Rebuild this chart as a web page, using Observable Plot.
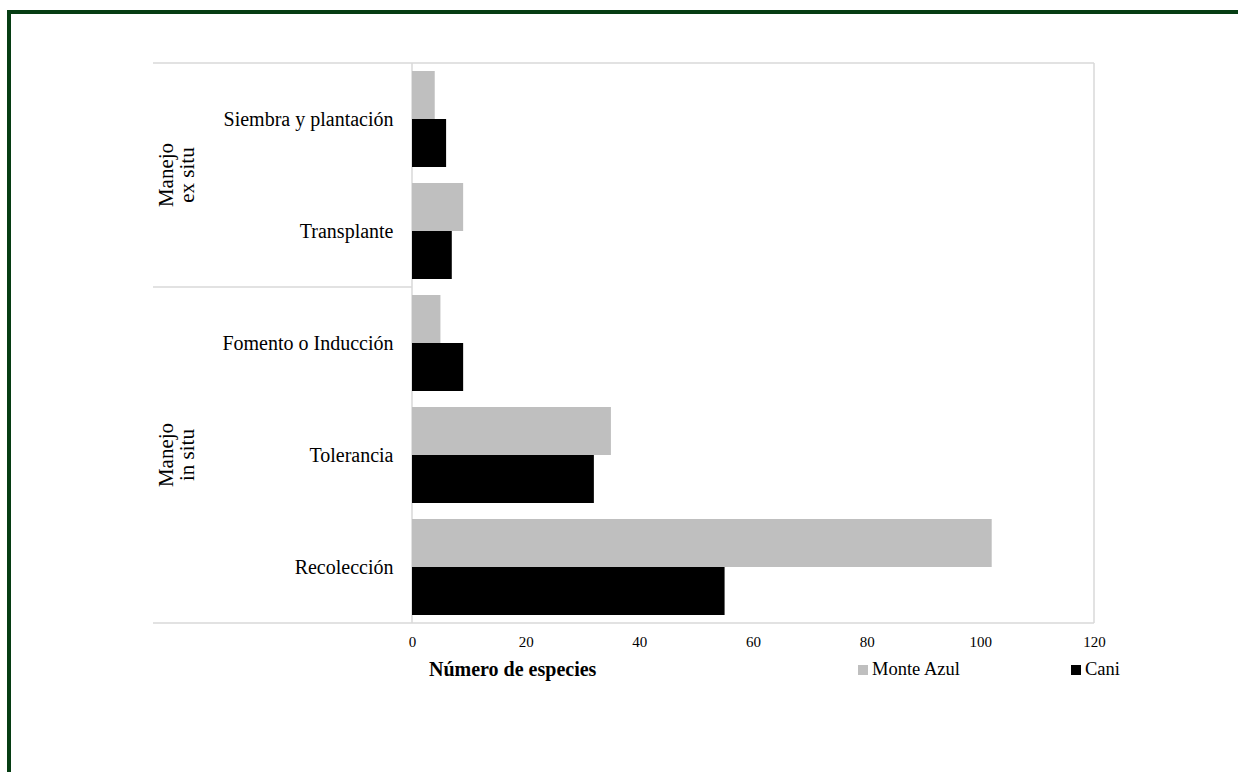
<!DOCTYPE html>
<html>
<head>
<meta charset="utf-8">
<script src="https://cdn.jsdelivr.net/npm/d3@7"></script>
<script src="https://cdn.jsdelivr.net/npm/@observablehq/plot@0.6"></script>
<style>
  html, body { margin: 0; padding: 0; background: #fff; }
  body { width: 1238px; height: 772px; position: relative; overflow: hidden;
         font-family: "Liberation Serif", "Times New Roman", serif; color: #000; }
  #border { position: absolute; left: 7px; top: 10px; width: 1400px; height: 900px;
            border-top: 4px solid #063d13; border-left: 4px solid #063d13; }
  #chart { position: absolute; left: 0; top: 0; }
  #xlabel { position: absolute; left: 429px; top: 658px; font-size: 20px; font-weight: bold; white-space: nowrap; }
  #legend { position: absolute; left: 858px; top: 659px; font-size: 18.5px; display: flex; align-items: center; white-space: nowrap; }
  .sw { display: inline-block; width: 10px; height: 10px; margin-right: 4px; }
  .item { display: flex; align-items: center; }
</style>
</head>
<body>
<div id="border"></div>
<div id="chart"></div>
<div id="xlabel"></div>
<div id="legend"></div>
<script>
// ---- data ----
const categories = ["Siembra y plantación", "Transplante", "Fomento o Inducción", "Tolerancia", "Recolección"];
const seriesNames = ["Monte Azul", "Cani"];
const monteAzul = [4, 9, 5, 35, 102];
const cani = [6, 7, 9, 32, 55];
const seriesColors = ["#bfbfbf", "#000000"];
const xTicks = [0, 20, 40, 60, 80, 100, 120];
const xLabel = "Número de especies";
const groupLabels = [["Manejo", "ex situ"], ["Manejo", "in situ"]];
const groupFirst = ["Siembra y plantación", "Fomento o Inducción"];
const groupLast = ["Transplante", "Recolección"];

(function () {
  const rows = categories.flatMap((c, i) => [
    {category: c, series: seriesNames[0], value: monteAzul[i]},
    {category: c, series: seriesNames[1], value: cani[i]}
  ]);

  const plot = Plot.plot({
    width: 1238,
    height: 650,
    marginLeft: 412,
    marginRight: 144,
    marginTop: 62,
    marginBottom: 27,
    style: {fontFamily: "'Liberation Serif', 'Times New Roman', serif", color: "#000", background: "transparent"},
    x: {domain: [0, 120]},
    y: {domain: seriesNames, paddingInner: 0, paddingOuter: 0.155, axis: null},
    fy: {domain: categories, padding: 0},
    color: {domain: seriesNames, range: seriesColors},
    marks: [
      Plot.barX(rows, {fy: "category", y: "series", x: "value", fill: "series"}),
      Plot.axisX({ticks: xTicks, tickSize: 0, tickPadding: 13, fontSize: 15, label: null}),
      Plot.axisFy({anchor: "left", tickSize: 0, tickPadding: 19, fontSize: 20, label: null})
    ]
  });
  document.getElementById("chart").appendChild(plot);

  // ---- frame lines using the plot's scales ----
  const svg = d3.select(plot);
  const xs = plot.scale("x");
  const fys = plot.scale("fy");
  const x0 = xs.apply(0), x1 = xs.apply(120);
  const yTop = fys.apply(categories[0]);
  const yBottom = fys.apply(categories[categories.length - 1]) + fys.bandwidth;
  const leftExt = 153;
  const g = svg.insert("g", ":scope > g").attr("stroke", "#d9d9d9").attr("stroke-width", 1.5).attr("fill", "none");
  g.append("line").attr("x1", leftExt).attr("x2", x1).attr("y1", yTop).attr("y2", yTop);
  g.append("line").attr("x1", leftExt).attr("x2", x1).attr("y1", yBottom).attr("y2", yBottom);
  g.append("line").attr("x1", x1).attr("x2", x1).attr("y1", yTop).attr("y2", yBottom);
  g.append("line").attr("x1", x0).attr("x2", x0).attr("y1", yTop).attr("y2", yBottom);
  for (let k = 1; k < groupFirst.length; k++) {
    const ys = fys.apply(groupFirst[k]);
    g.append("line").attr("x1", leftExt).attr("x2", x0).attr("y1", ys).attr("y2", ys);
  }
  // group labels
  groupLabels.forEach((lines, k) => {
    const yc = (fys.apply(groupFirst[k]) + fys.apply(groupLast[k]) + fys.bandwidth) / 2;
    const t = svg.append("text")
      .attr("transform", `translate(176,${yc}) rotate(-90)`)
      .attr("text-anchor", "middle")
      .attr("font-size", 21)
      .attr("fill", "#000");
    lines.forEach((ln, j) => {
      t.append("tspan").attr("x", 0).attr("y", (j - (lines.length - 1) / 2) * 21).attr("dy", "0.35em").text(ln);
    });
  });

  // ---- x label & legend ----
  document.getElementById("xlabel").textContent = xLabel;
  const legend = d3.select("#legend");
  seriesNames.forEach((s, i) => {
    const it = legend.append("div").attr("class", "item").style("margin-right", i === 0 ? "111px" : "0");
    it.append("span").attr("class", "sw").style("background", seriesColors[i]);
    it.append("span").text(s);
  });
})();
</script>
</body>
</html>
